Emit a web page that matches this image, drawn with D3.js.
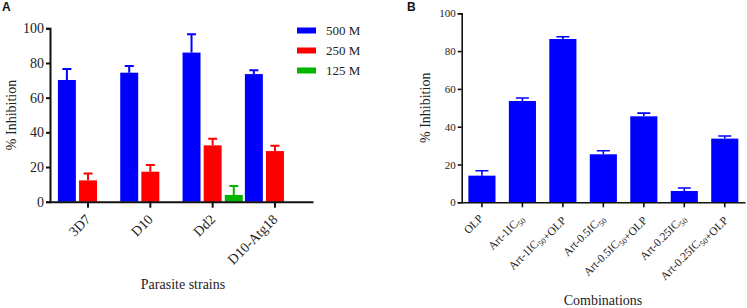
<!DOCTYPE html>
<html>
<head>
<meta charset="utf-8">
<script src="https://cdn.jsdelivr.net/npm/d3@7"></script>
<style>
body { margin: 0; background: #fff; }
svg text { font-family: "Liberation Serif", "Times New Roman", serif !important; fill: #222; }
svg text.panel { font-family: "Liberation Sans", Arial, sans-serif !important; font-weight: bold; fill: #111; }
</style>
</head>
<body>
<div id="container"></div>
<script>
// panel A data
var strains = ["3D7", "D10", "Dd2", "D10-Atg18"];
var doses = ["500 M", "250 M", "125 M"];
var inh500 = [70.2, 74.4, 86.0, 73.6];
var err500 = [6.3, 3.9, 10.5, 2.2];
var inh250 = [12.3, 17.3, 32.5, 29.2];
var err250 = [4.0, 3.9, 3.8, 3.1];
var inh125 = [null, null, 3.9, null];
var err125 = [null, null, 5.2, null];
var doseColors = ["#0000ff", "#ff0000", "#00b400"];

// panel B data
var combos = ["OLP", "Art-1IC50", "Art-1IC50+OLP", "Art-0.5IC50", "Art-0.5IC50+OLP", "Art-0.25IC50", "Art-0.25IC50+OLP"];
var comboVals = [14.1, 53.6, 86.4, 25.4, 45.5, 6.0, 33.7];
var comboErr = [2.6, 1.6, 1.2, 1.9, 1.7, 1.6, 1.4];

var yTicks = [0, 20, 40, 60, 80, 100];

var svg = d3.select("#container").append("svg")
	.attr("width", 747)
	.attr("height", 308)
	.attr("font-family", "Liberation Serif");

// ---------- panel A ----------
var A = {left: 50, right: 313, top: 28.3, bottom: 201.7};

var x0 = d3.scaleBand().domain(strains).range([A.left, A.right]).paddingInner(0).paddingOuter(0.11);
var x1 = d3.scaleBand().domain(doses).range([0, x0.bandwidth()]).paddingInner(0.15).paddingOuter(0.05);
var yA = d3.scaleLinear().domain([0, 100]).range([A.bottom, A.top]);

var gA = svg.append("g");

var rowsA = [];
strains.forEach(function(s, i) {
	[inh500, inh250, inh125].forEach(function(arr, k) {
		var errs = [err500, err250, err125][k];
		if (arr[i] != null) rowsA.push({strain: s, dose: doses[k], v: arr[i], e: errs[i], c: doseColors[k]});
	});
});

// error bars (upper half only)
gA.selectAll(".errA").data(rowsA).enter().append("path")
	.attr("d", function(d) {
		var cx = x0(d.strain) + x1(d.dose) + x1.bandwidth() / 2;
		var yt = yA(d.v + d.e);
		return "M" + cx + "," + yA(d.v) + "V" + yt + "M" + (cx - 4.5) + "," + yt + "H" + (cx + 4.5);
	})
	.attr("fill", "none")
	.attr("stroke", function(d) { return d.c; })
	.attr("stroke-width", 2);

gA.selectAll(".barA").data(rowsA).enter().append("rect")
	.attr("x", function(d) { return x0(d.strain) + x1(d.dose); })
	.attr("y", function(d) { return yA(d.v); })
	.attr("width", x1.bandwidth())
	.attr("height", function(d) { return yA(0) - yA(d.v); })
	.attr("fill", function(d) { return d.c; });

var yAxisA = gA.append("g")
	.attr("transform", "translate(" + A.left + ",0)")
	.call(d3.axisLeft(yA).tickValues(yTicks).tickSize(4).tickPadding(2));
yAxisA.selectAll("text").style("font-size", "14px");

// x axis: ticks at the middle bar of each group
var xAxisA = gA.append("g")
	.attr("transform", "translate(0," + A.bottom + ")")
	.call(d3.axisBottom(x0).tickSize(6).tickSizeOuter(0));
xAxisA.selectAll("text")
	.style("font-size", "14px")
	.attr("x", 0).attr("y", 0)
	.attr("text-anchor", "end")
	.attr("transform", "translate(0,15) rotate(-45)")
	.attr("dy", "0.35em");

[yAxisA, xAxisA].forEach(function(ax) {
	ax.attr("font-family", null);
	ax.select(".domain").attr("stroke", "#111").attr("stroke-width", 2);
	ax.selectAll(".tick line").attr("stroke", "#111").attr("stroke-width", 2);
	ax.selectAll("text").attr("fill", "#222");
});

gA.append("text")
	.attr("transform", "translate(16," + ((A.top + A.bottom) / 2) + ") rotate(-90)")
	.attr("text-anchor", "middle")
	.style("font-size", "14px")
	.text("% Inhibition");

gA.append("text")
	.attr("x", 183).attr("y", 289)
	.attr("text-anchor", "middle")
	.style("font-size", "14px")
	.text("Parasite strains");

// legend
var legend = gA.selectAll(".legend").data(doses).enter().append("g")
	.attr("transform", function(d, i) { return "translate(297," + (30.5 + i * 20) + ")"; });
legend.append("rect")
	.attr("x", 0).attr("y", -3).attr("width", 19).attr("height", 6)
	.attr("fill", function(d, i) { return doseColors[i]; });
legend.append("text")
	.attr("x", 29).attr("y", 0).attr("dy", "0.35em")
	.style("font-size", "13px")
	.text(function(d) { return d; });

gA.append("text").attr("class", "panel").attr("x", 2).attr("y", 11).style("font-size", "12px").text("A");

// ---------- panel B ----------
var B = {left: 461.7, right: 745, top: 13.3, bottom: 202.3};

var xB = d3.scaleBand().domain(combos).range([B.left, B.right]).paddingInner(0.33).paddingOuter(0.165);
var yB = d3.scaleLinear().domain([0, 100]).range([B.bottom, B.top]);

var gB = svg.append("g");

gB.selectAll(".errB").data(combos).enter().append("path")
	.attr("d", function(d, i) {
		var cx = xB(d) + xB.bandwidth() / 2;
		var yt = yB(comboVals[i] + comboErr[i]);
		return "M" + cx + "," + yB(comboVals[i]) + "V" + yt + "M" + (cx - 6.5) + "," + yt + "H" + (cx + 6.5);
	})
	.attr("fill", "none")
	.attr("stroke", "#0000ff")
	.attr("stroke-width", 1.6);

gB.selectAll(".barB").data(combos).enter().append("rect")
	.attr("x", function(d) { return xB(d); })
	.attr("y", function(d, i) { return yB(comboVals[i]); })
	.attr("width", xB.bandwidth())
	.attr("height", function(d, i) { return yB(0) - yB(comboVals[i]); })
	.attr("fill", "#0000ff");

var yAxisB = gB.append("g")
	.attr("transform", "translate(" + B.left + ",0)")
	.call(d3.axisLeft(yB).tickValues(yTicks).tickSize(4).tickPadding(2));
yAxisB.selectAll("text").style("font-size", "11px");

var xAxisB = gB.append("g")
	.attr("transform", "translate(0," + B.bottom + ")")
	.call(d3.axisBottom(xB).tickSize(5).tickSizeOuter(0).tickFormat(""));

// tick labels with subscript "50"
xAxisB.selectAll(".tick").append("text")
	.attr("text-anchor", "end")
	.attr("transform", "translate(-1,14) rotate(-45)")
	.attr("dy", "0.35em")
	.style("font-size", "11.5px")
	.attr("fill", "#222")
	.each(function(d) {
		var t = d3.select(this);
		d.split(/(50)/).forEach(function(part) {
			if (part === "") return;
			if (part === "50") {
				t.append("tspan").attr("dy", "3").style("font-size", "8px").text("50");
				t.append("tspan").attr("dy", "-3").text("");
			} else {
				t.append("tspan").text(part);
			}
		});
	});

[yAxisB, xAxisB].forEach(function(ax) {
	ax.attr("font-family", null);
	ax.select(".domain").attr("stroke", "#111").attr("stroke-width", 1.6);
	ax.selectAll(".tick line").attr("stroke", "#111").attr("stroke-width", 1.6);
	ax.selectAll("text").attr("fill", "#222");
});

gB.append("text")
	.attr("transform", "translate(430," + ((B.top + B.bottom) / 2) + ") rotate(-90)")
	.attr("text-anchor", "middle")
	.style("font-size", "14px")
	.text("% Inhibition");

gB.append("text")
	.attr("x", 603).attr("y", 305)
	.attr("text-anchor", "middle")
	.style("font-size", "14px")
	.text("Combinations");

gB.append("text").attr("class", "panel").attr("x", 407).attr("y", 11).style("font-size", "12px").text("B");
</script>
</body>
</html>
